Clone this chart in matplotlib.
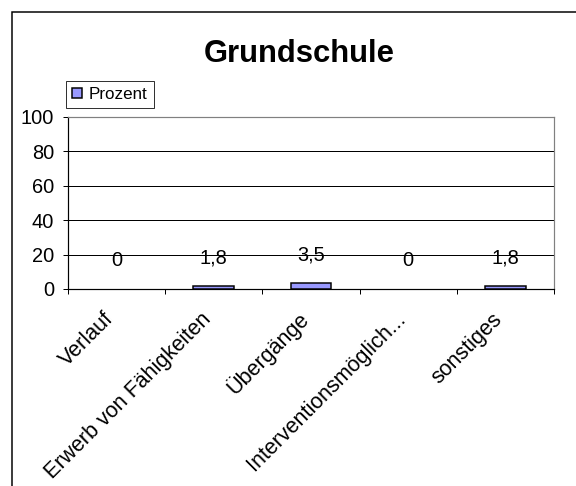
import matplotlib
matplotlib.use("Agg")
import matplotlib.pyplot as plt
from matplotlib.patches import Rectangle
import matplotlib.transforms as mtransforms

plt.rcParams['font.family'] = ['Liberation Sans', 'DejaVu Sans']

categories = ["Verlauf", "Erwerb von Fähigkeiten", "Übergänge",
              "Interventionsmöglich...", "sonstiges"]
values = [0, 1.8, 3.5, 0, 1.8]
series_name = "Prozent"
title = "Grundschule"
yticks = [0, 20, 40, 60, 80, 100]

W, H = 576, 486
fig = plt.figure(figsize=(W / 72, H / 72), dpi=72)
ax = fig.add_axes([68 / W, 1 - 289 / H, (554 - 68) / W, (289 - 117) / H])

x = list(range(len(categories)))
bars = ax.bar(x, values, width=0.42, color="#9999FF", edgecolor="black",
              linewidth=1.5, label=series_name, zorder=3)
for b, v in zip(bars, values):
    if v == 0:
        b.set_visible(False)

ax.set_xlim(-0.5, len(categories) - 0.5)
ax.set_ylim(0, 100)
ax.set_yticks(yticks)
ax.set_yticklabels([str(t) for t in yticks], fontsize=20)
ax.yaxis.grid(True, color="black", linewidth=1)
ax.set_axisbelow(True)

ax.set_xticks(x)
ax.set_xticklabels(categories, fontsize=21.5, rotation=45, ha="right",
                   va="center", rotation_mode="anchor")
ax.set_xticks([i - 0.5 for i in range(len(categories) + 1)], minor=True)
ax.tick_params(axis="x", which="major", length=0, pad=27)
ax.tick_params(axis="x", which="minor", length=5, width=1, color="black",
               direction="out")
ax.tick_params(axis="y", length=5, width=1, direction="out", pad=9)

offset = mtransforms.ScaledTranslation(-6 / 72, 0, fig.dpi_scale_trans)
for lbl in ax.get_xticklabels():
    lbl.set_transform(lbl.get_transform() + offset)

for sp in ("left", "bottom"):
    ax.spines[sp].set_color("black")
    ax.spines[sp].set_linewidth(1.2)
for sp in ("top", "right"):
    ax.spines[sp].set_color("#808080")
    ax.spines[sp].set_linewidth(1.2)

for xi, v in zip(x, values):
    ax.annotate(f"{v:g}".replace(".", ","), (xi, v), xytext=(0, 28),
                textcoords="offset points", ha="center", va="center",
                fontsize=20)

fig.text(299 / W, 1 - 62 / H, title, ha="center", va="baseline",
         fontsize=31, fontweight="bold")

leg = ax.legend(handles=[bars[1]], labels=[series_name],
                loc="upper left", bbox_to_anchor=(66 / W, 1 - 81 / H),
                bbox_transform=fig.transFigure, fontsize=17, frameon=True,
                fancybox=False, borderaxespad=0, borderpad=0.35,
                handlelength=0.6, handleheight=0.6, handletextpad=0.4)
leg.get_frame().set_edgecolor("black")
leg.get_frame().set_linewidth(0.8)
leg.get_frame().set_alpha(1)

fig.patches.append(Rectangle((12 / W, -0.1), 2, 1 - 12 / H + 0.1,
                             transform=fig.transFigure, fill=False,
                             edgecolor="black", linewidth=1.5))

fig.savefig("out.png", dpi=72)
